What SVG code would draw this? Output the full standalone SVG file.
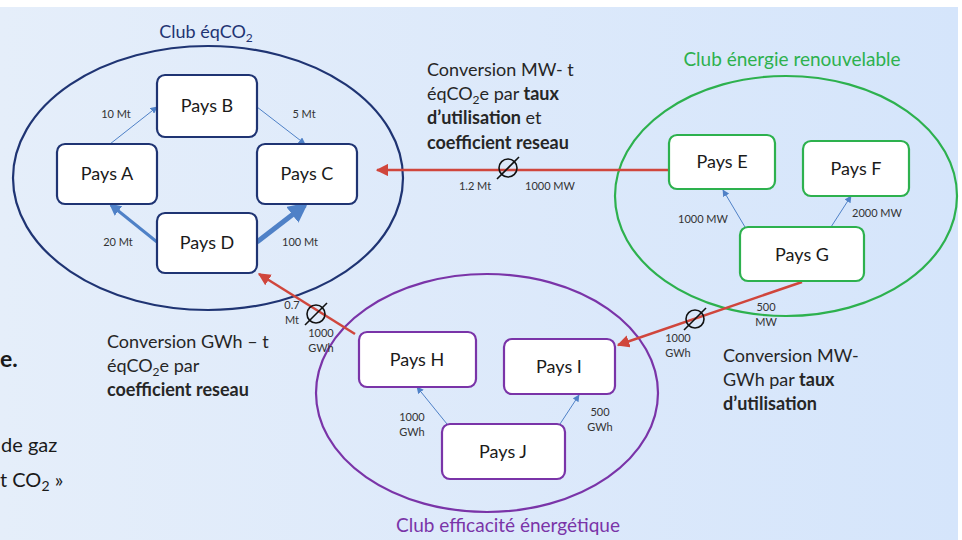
<svg xmlns="http://www.w3.org/2000/svg" width="962" height="540" viewBox="0 0 962 540">
<defs>
<linearGradient id="bg" x1="0" y1="0" x2="1" y2="0">
<stop offset="0" stop-color="#e5eefa"/>
<stop offset="1" stop-color="#d5e5fb"/>
</linearGradient>
<marker id="ab" viewBox="0 0 10 10" refX="9" refY="5" markerWidth="7" markerHeight="7" markerUnits="userSpaceOnUse" orient="auto"><path d="M0,0 L10,5 L0,10 z" fill="#4f81c7"/></marker>
<marker id="ab2" viewBox="0 0 10 10" refX="8" refY="5" markerWidth="4" markerHeight="4" orient="auto"><path d="M0,0 L10,5 L0,10 z" fill="#4f81c7"/></marker>
<marker id="ar" viewBox="0 0 10 10" refX="9" refY="5" markerWidth="5" markerHeight="5" orient="auto"><path d="M0,0 L10,5 L0,10 z" fill="#d0463c"/></marker>
</defs>
<style>
text{font-family:Lato,"Open Sans","Liberation Sans",sans-serif;}
.n rect{fill:#fff;stroke-width:2.2;}
.n text{font-size:18px;fill:#1a1a1a;text-anchor:middle;}
.c1 rect{stroke:#1f3473;}
.c2 rect{stroke:#2db14e;}
.c3 rect{stroke:#7a34a8;}
.lb{font-size:11px;fill:#333;text-anchor:middle;}
.tx{font-size:18px;fill:#262626;}
.b{font-weight:bold;}
.blue{stroke:#4f81c7;fill:none;}
.red{stroke:#d0463c;stroke-width:2.5;fill:none;}
.nul circle{fill:none;stroke:#111;stroke-width:1.6;}
.nul line{stroke:#111;stroke-width:1.6;}
</style>
<rect x="0" y="0" width="962" height="540" fill="#fff"/>
<rect x="0" y="7" width="958" height="533" fill="url(#bg)"/>

<g id="club-eqco2">
<ellipse cx="208" cy="178" rx="195" ry="132" fill="none" stroke="#1f3473" stroke-width="2.2"/>
<text x="206" y="38" font-size="18" fill="#1f3473" text-anchor="middle">Club éqCO<tspan font-size="12" dy="4">2</tspan></text>
</g>
<g id="club-enr">
<ellipse cx="786" cy="196" rx="171" ry="120" fill="none" stroke="#2db14e" stroke-width="2.2"/>
<text x="792" y="66" font-size="19" fill="#2db14e" text-anchor="middle">Club énergie renouvelable</text>
</g>
<g id="club-eff">
<ellipse cx="487" cy="393" rx="171" ry="119" fill="none" stroke="#7a34a8" stroke-width="2.2"/>
<text x="508" y="532" font-size="19" fill="#7a34a8" text-anchor="middle">Club efficacité énergétique</text>
</g>

<g id="connectors">
<line class="blue" x1="110" y1="144" x2="157" y2="107" stroke-width="1" marker-end="url(#ab)"/>
<line class="blue" x1="257" y1="107" x2="305" y2="144" stroke-width="1" marker-end="url(#ab)"/>
<line class="blue" x1="157" y1="242" x2="111" y2="205" stroke-width="3" marker-end="url(#ab2)"/>
<line class="blue" x1="257" y1="242" x2="305" y2="205" stroke-width="5" marker-end="url(#ab2)"/>
<line class="blue" x1="745" y1="227" x2="723" y2="190" stroke-width="1" marker-end="url(#ab)"/>
<line class="blue" x1="831" y1="227" x2="851" y2="196" stroke-width="1" marker-end="url(#ab)"/>
<line class="blue" x1="447" y1="424" x2="417" y2="387" stroke-width="1" marker-end="url(#ab)"/>
<line class="blue" x1="560" y1="424" x2="579" y2="395" stroke-width="1" marker-end="url(#ab)"/>
<line class="red" x1="668" y1="170" x2="377" y2="170" marker-end="url(#ar)"/>
<line class="red" x1="802" y1="282" x2="618" y2="345" marker-end="url(#ar)"/>
<line class="red" x1="355" y1="334" x2="259" y2="274" marker-end="url(#ar)"/>
<g class="nul"><circle cx="508" cy="168" r="9"/><line x1="497" y1="179" x2="519" y2="157"/></g>
<g class="nul"><circle cx="695" cy="319" r="9"/><line x1="684" y1="330" x2="706" y2="308"/></g>
<g class="nul"><circle cx="316" cy="314" r="9"/><line x1="305" y1="325" x2="327" y2="303"/></g>
<text class="lb" x="116" y="118">10 Mt</text>
<text class="lb" x="304" y="118">5 Mt</text>
<text class="lb" x="118" y="246">20 Mt</text>
<text class="lb" x="300" y="246">100 Mt</text>
<text class="lb" x="475" y="190">1.2 Mt</text>
<text class="lb" x="550" y="190">1000 MW</text>
<text class="lb" x="703" y="223">1000 MW</text>
<text class="lb" x="877" y="217">2000 MW</text>
<text class="lb" x="766" y="311">500</text>
<text class="lb" x="766" y="326">MW</text>
<text class="lb" x="678" y="342">1000</text>
<text class="lb" x="678" y="357">GWh</text>
<text class="lb" x="412" y="421">1000</text>
<text class="lb" x="412" y="436">GWh</text>
<text class="lb" x="600" y="416">500</text>
<text class="lb" x="600" y="431">GWh</text>
<text class="lb" x="292" y="309">0.7</text>
<text class="lb" x="292" y="324">Mt</text>
<text class="lb" x="321" y="337">1000</text>
<text class="lb" x="321" y="352">GWh</text>
</g>

<g id="pays-a" class="n c1"><rect x="57" y="144" width="100" height="60" rx="8"/><text x="107" y="180">Pays A</text></g>
<g id="pays-b" class="n c1"><rect x="157" y="75" width="100" height="62" rx="8"/><text x="207" y="112">Pays B</text></g>
<g id="pays-c" class="n c1"><rect x="257" y="144" width="100" height="60" rx="8"/><text x="307" y="180">Pays C</text></g>
<g id="pays-d" class="n c1"><rect x="157" y="213" width="100" height="60" rx="8"/><text x="207" y="249">Pays D</text></g>
<g id="pays-e" class="n c2"><rect x="669" y="135" width="106" height="54" rx="8"/><text x="722" y="168">Pays E</text></g>
<g id="pays-f" class="n c2"><rect x="803" y="141" width="106" height="55" rx="8"/><text x="856" y="175">Pays F</text></g>
<g id="pays-g" class="n c2"><rect x="740" y="227" width="124" height="54" rx="8"/><text x="802" y="261">Pays G</text></g>
<g id="pays-h" class="n c3"><rect x="359" y="332" width="117" height="55" rx="8"/><text x="417" y="366">Pays H</text></g>
<g id="pays-i" class="n c3"><rect x="504" y="339" width="111" height="55" rx="8"/><text x="559" y="373">Pays I</text></g>
<g id="pays-j" class="n c3"><rect x="442" y="424" width="123" height="55" rx="8"/><text x="503" y="458">Pays J</text></g>

<g id="text-conv1" class="tx">
<text x="427" y="76">Conversion MW- t</text>
<text x="427" y="100">éqCO<tspan font-size="12" dy="4">2</tspan><tspan dy="-4">e par </tspan><tspan class="b">taux</tspan></text>
<text x="427" y="124"><tspan class="b">d’utilisation</tspan> et</text>
<text x="427" y="149" class="b">coefficient reseau</text>
</g>
<g id="text-conv2" class="tx">
<text x="723" y="362">Conversion MW-</text>
<text x="723" y="386">GWh par <tspan class="b">taux</tspan></text>
<text x="723" y="410" class="b">d’utilisation</text>
</g>
<g id="text-conv3" class="tx">
<text x="107" y="348">Conversion GWh – t</text>
<text x="107" y="372">éqCO<tspan font-size="12" dy="4">2</tspan><tspan dy="-4">e par</tspan></text>
<text x="107" y="396" class="b">coefficient reseau</text>
</g>
<g id="text-left" fill="#1a1a1a">
<text x="0" y="367" font-size="23" font-weight="bold">e.</text>
<text x="1" y="452" font-size="20">de gaz</text>
<text x="0" y="487" font-size="20">t CO<tspan font-size="14" dy="4">2</tspan><tspan dy="-4"> »</tspan></text>
</g>
</svg>
